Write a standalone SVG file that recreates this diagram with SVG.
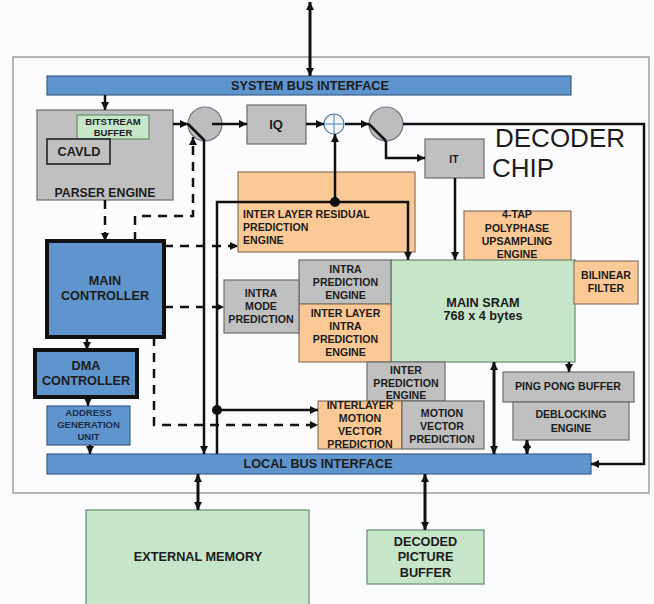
<svg xmlns="http://www.w3.org/2000/svg" width="654" height="604" viewBox="0 0 654 604">
<style>
text{font-family:"Liberation Sans",Arial,sans-serif;font-weight:bold;fill:#1c1c1c;text-anchor:middle}
.s{font-size:10.6px}
.m{font-size:12.7px}
.xs{font-size:9.5px}
.gray{fill:#c0c0c0;stroke:#6c6c6c;stroke-width:1.2}
.blue{fill:#5f95cc;stroke:#3b5f88;stroke-width:1.2}
.thick{stroke:#111;stroke-width:4}
.orange{fill:#fbc995;stroke:#8a7462;stroke-width:1.2}
.green{fill:#c6e5c9;stroke:#6b8a6f;stroke-width:1.2}
.ln{fill:none;stroke:#111;stroke-width:2.5}
.dash{stroke-dasharray:9 7}
.ar{marker-end:url(#ah)}
.ar2{marker-start:url(#ah);marker-end:url(#ah)}
</style>
<defs>
<marker id="ah" viewBox="0 0 10 10" refX="10" refY="5" markerUnits="userSpaceOnUse" markerWidth="9" markerHeight="8" orient="auto-start-reverse">
<path d="M0,0 L10,5 L0,10 z" fill="#111"/>
</marker>
</defs>
<rect x="0" y="0" width="654" height="604" fill="#fafbfd"/>
<rect id="chip" x="13" y="57" width="636" height="436" fill="#fcfcfe" stroke="#9a8e8e" stroke-width="1.3"/>
<text x="495" y="147" style="font-weight:normal;font-size:26px;text-anchor:start">DECODER</text>
<text x="492" y="177" style="font-weight:normal;font-size:26px;text-anchor:start">CHIP</text>

<g id="system-bus"><rect class="blue" x="47" y="76" width="524" height="19"/><text class="m" x="310" y="90">SYSTEM BUS INTERFACE</text></g>
<g id="local-bus"><rect class="blue" x="47" y="454" width="544" height="20"/><text class="m" x="318" y="468">LOCAL BUS INTERFACE</text></g>

<g id="parser-engine"><rect class="gray" x="37" y="110" width="136" height="90"/><text x="105" y="197" style="font-size:12.3px">PARSER ENGINE</text></g>
<g id="bitstream-buffer"><rect class="green" x="77" y="115" width="72" height="24"/><text class="xs" x="113" y="125">BITSTREAM</text><text class="xs" x="113" y="136">BUFFER</text></g>
<g id="cavld"><rect x="47" y="139" width="63" height="25" fill="#c0c0c0" stroke="#222" stroke-width="1.6"/><text class="m" x="79" y="156">CAVLD</text></g>

<g id="mux1"><circle cx="205" cy="124" r="17" fill="#bdbdbd" stroke="#6a7888" stroke-width="1.2"/><path class="ln" d="M188,124 L205,141"/></g>
<g id="iq"><rect class="gray" x="247" y="105" width="59" height="39"/><text x="276" y="129" style="font-size:13px">IQ</text></g>
<g id="adder"><circle cx="334" cy="124" r="10" fill="#f4f8fc" stroke="#4a7ea8" stroke-width="1.2"/><path d="M324,124 H344 M334,114 V134" stroke="#4a7ea8" stroke-width="1"/></g>
<g id="mux2"><circle cx="386" cy="124" r="17" fill="#bdbdbd" stroke="#6a7888" stroke-width="1.2"/><path class="ln" d="M369,124 L386,141"/></g>
<g id="it"><rect class="gray" x="425" y="139" width="59" height="39"/><text x="454" y="163" style="font-size:10.5px">IT</text></g>

<g id="main-controller"><rect class="blue thick" x="47" y="241" width="117" height="96"/><text class="m" x="105" y="285">MAIN</text><text class="m" x="105" y="300">CONTROLLER</text></g>
<g id="dma-controller"><rect class="blue thick" x="35" y="350" width="102" height="47"/><text class="m" x="86" y="370">DMA</text><text class="m" x="86" y="385">CONTROLLER</text></g>
<g id="address-generation-unit"><rect class="blue" x="47" y="406" width="83" height="39"/><text class="xs" x="88.5" y="416" style="fill:#1c2c48">ADDRESS</text><text class="xs" x="88.5" y="428" style="fill:#1c2c48">GENERATION</text><text class="xs" x="88.5" y="440" style="fill:#1c2c48">UNIT</text></g>

<g id="inter-layer-residual"><rect class="orange" x="238" y="172" width="177" height="80"/><text class="s" x="243" y="218" style="text-anchor:start">INTER LAYER RESIDUAL</text><text class="s" x="243" y="231" style="text-anchor:start">PREDICTION</text><text class="s" x="243" y="244" style="text-anchor:start">ENGINE</text></g>
<g id="upsampling"><rect class="orange" x="464" y="211" width="107" height="50"/><text class="s" x="517" y="218">4-TAP</text><text class="s" x="517" y="232">POLYPHASE</text><text class="s" x="517" y="245">UPSAMPLING</text><text class="s" x="517" y="258">ENGINE</text></g>
<g id="main-sram"><rect class="green" x="391" y="260" width="184" height="102"/><text class="m" x="483" y="307">MAIN SRAM</text><text class="m" x="483" y="320">768 x 4 bytes</text></g>
<g id="bilinear-filter"><rect class="orange" x="574" y="261" width="64" height="43"/><text class="s" x="606" y="279">BILINEAR</text><text class="s" x="606" y="292">FILTER</text></g>
<g id="intra-prediction"><rect class="gray" x="299" y="260" width="92" height="44"/><text class="s" x="345.5" y="273">INTRA</text><text class="s" x="345.5" y="286">PREDICTION</text><text class="s" x="345.5" y="299">ENGINE</text></g>
<g id="inter-layer-intra"><rect class="orange" x="299" y="304" width="92" height="58"/><text class="s" x="345.5" y="317">INTER LAYER</text><text class="s" x="345.5" y="330">INTRA</text><text class="s" x="345.5" y="343">PREDICTION</text><text class="s" x="345.5" y="356">ENGINE</text></g>
<g id="intra-mode"><rect class="gray" x="224" y="280" width="75" height="53"/><text class="s" x="261" y="297">INTRA</text><text class="s" x="261" y="310">MODE</text><text class="s" x="261" y="323">PREDICTION</text></g>
<g id="inter-prediction"><rect class="gray" x="367" y="362" width="78" height="39"/><text class="s" x="406" y="374">INTER</text><text class="s" x="406" y="387">PREDICTION</text><text class="s" x="406" y="399">ENGINE</text></g>
<g id="interlayer-mv"><rect class="orange" x="318" y="401" width="84" height="48"/><text class="s" x="360" y="409">INTERLAYER</text><text class="s" x="360" y="422">MOTION</text><text class="s" x="360" y="435">VECTOR</text><text class="s" x="360" y="448">PREDICTION</text></g>
<g id="mv-prediction"><rect class="gray" x="402" y="401" width="82" height="48"/><text class="s" x="442" y="417">MOTION</text><text class="s" x="442" y="430">VECTOR</text><text class="s" x="442" y="443">PREDICTION</text></g>
<g id="ping-pong"><rect class="gray" x="503" y="372" width="131" height="30"/><text class="s" x="568" y="390">PING PONG BUFFER</text></g>
<g id="deblocking"><rect class="gray" x="513" y="402" width="116" height="38"/><text class="s" x="571" y="418">DEBLOCKING</text><text class="s" x="571" y="432">ENGINE</text></g>

<g id="external-memory"><rect class="green" x="86" y="510" width="223" height="100"/><text class="m" x="198" y="561">EXTERNAL MEMORY</text></g>
<g id="decoded-picture-buffer"><rect class="green" x="367" y="530" width="117" height="54"/><text class="m" x="425.5" y="546">DECODED</text><text class="m" x="425.5" y="561">PICTURE</text><text class="m" x="425.5" y="577">BUFFER</text></g>

<g id="connectors">
<path class="ln ar2" d="M310,2 V76" style="stroke-width:3"/>
<path class="ln ar" d="M105,95 V110"/>
<path class="ln ar" d="M173,124 H188"/>
<path class="ln ar" d="M212,124 H247"/>
<path class="ln ar" d="M306,124 H324"/>
<path class="ln ar" d="M345,124 H369"/>
<path class="ln ar" d="M403,124 H644 V464 H591"/>
<path class="ln ar" d="M386,141 V158 H425"/>
<path class="ln ar" d="M455,178 V260"/>
<path class="ln ar" d="M335,202 V134"/>
<path class="ln ar" d="M217,454 V202 H408 V260"/>
<path class="ln ar" d="M204,141 V454"/>
<path class="ln ar" d="M217,410 H318"/>
<circle cx="335" cy="202" r="5" fill="#111"/>
<circle cx="217" cy="410" r="5" fill="#111"/>
<path class="ln ar2" d="M494,362 V454" style="stroke-width:3"/>
<path class="ln ar" d="M569,362 V372"/>
<path class="ln ar2" d="M527,440 V454" style="stroke-width:3"/>
<path class="ln ar2" d="M198,474 V510" style="stroke-width:3"/>
<path class="ln ar2" d="M425,474 V530" style="stroke-width:3"/>
<path class="ln ar" d="M87,337 V350"/>
<path class="ln ar" d="M88,397 V406"/>
<path class="ln ar" d="M90,445 V454"/>
<path class="ln dash ar" d="M105,200 V241"/>
<path class="ln dash ar" d="M135,241 V216 H193 V137"/>
<path class="ln dash ar" d="M164,246 H238"/>
<path class="ln dash ar" d="M164,307 H224"/>
<path class="ln dash ar" d="M154,337 V425 H318"/>
</g>
</svg>
